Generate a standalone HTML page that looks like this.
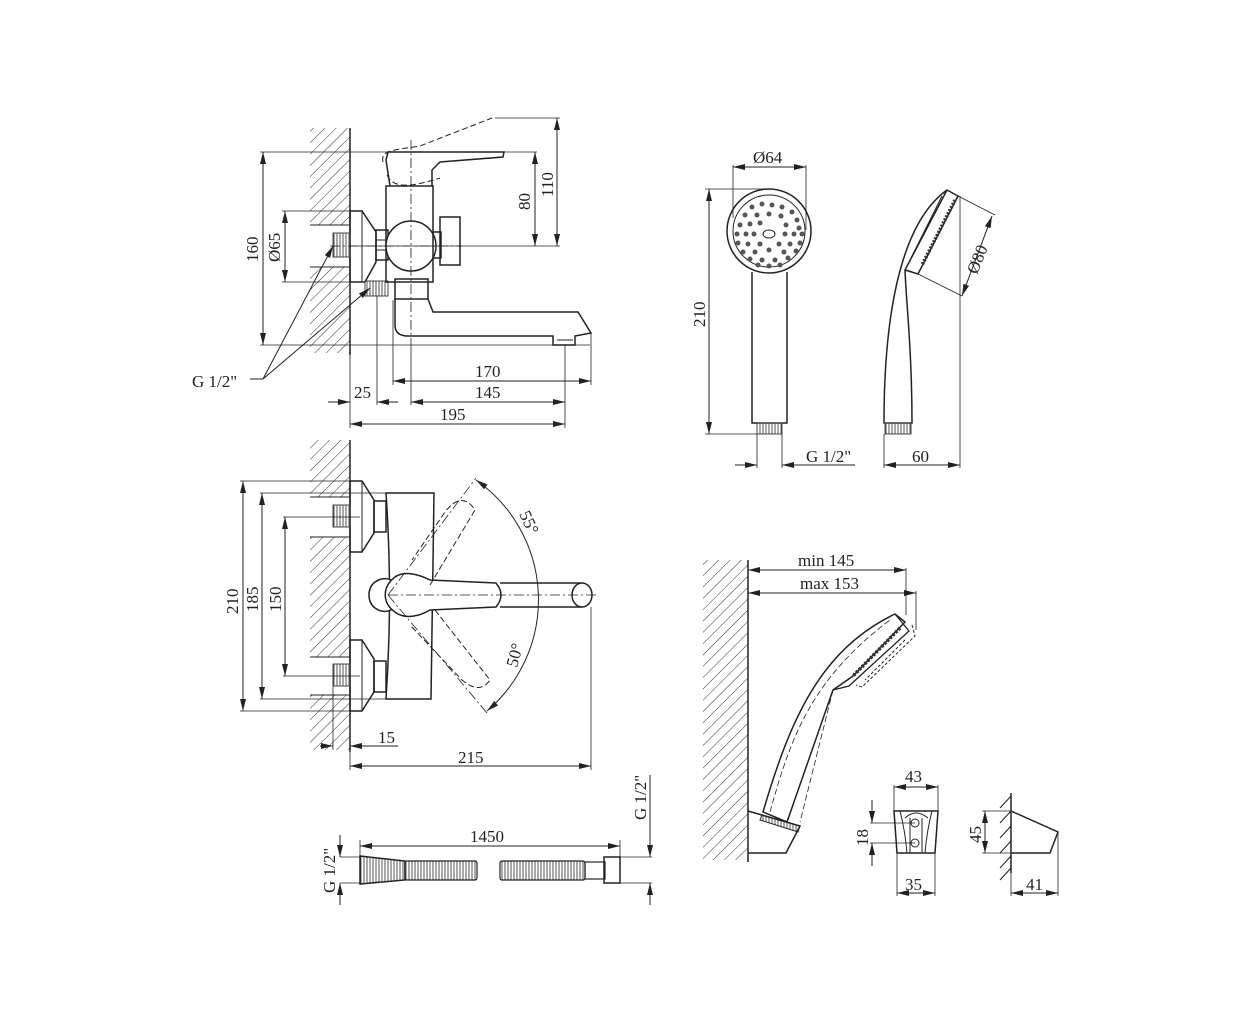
<!DOCTYPE html>
<html><head><meta charset="utf-8"><style>
html,body{margin:0;padding:0;background:#fff}
svg{display:block}
text{font-family:"Liberation Serif",serif;font-size:17px;fill:#222}
</style></head><body>
<svg width="1252" height="1024" viewBox="0 0 1252 1024" xmlns="http://www.w3.org/2000/svg">
<defs>
<pattern id="h" width="8" height="8" patternUnits="userSpaceOnUse" patternTransform="rotate(45)">
<line x1="0" y1="0" x2="0" y2="8" stroke="#333" stroke-width="1"/></pattern>
<pattern id="thr" width="3" height="4" patternUnits="userSpaceOnUse"><line x1="1" y1="0" x2="1" y2="4" stroke="#555" stroke-width="1"/></pattern>
<marker id="a" markerWidth="12" markerHeight="6" refX="12" refY="3" orient="auto-start-reverse" markerUnits="userSpaceOnUse"><path d="M0,0 L12,3 L0,6 z" fill="#222"/></marker>
</defs>
<g fill="none" stroke="#222" stroke-width="1">

<!-- ===== View 1 ===== -->
<rect x="310" y="128" width="40" height="97" fill="url(#h)" stroke="none"/>
<rect x="310" y="267" width="40" height="86" fill="url(#h)" stroke="none"/>
<line x1="350" y1="128" x2="350" y2="355" stroke-width="1.5"/>
<line x1="310" y1="225" x2="350" y2="225"/><line x1="310" y1="267" x2="350" y2="267"/>
<path d="M350,211 L362,211 L376,232 L376,262 L365,282 L350,282 Z" stroke-width="1.5"/>
<line x1="362" y1="211" x2="362" y2="282"/>
<rect x="333" y="233" width="17" height="24" fill="url(#thr)" stroke="#444"/>
<rect x="365" y="281" width="23" height="15" fill="url(#thr)" stroke="#444"/>
<rect x="376" y="230" width="12" height="30" stroke-width="1.5"/>
<line x1="376" y1="240" x2="388" y2="240"/><line x1="376" y1="250" x2="388" y2="250"/>
<rect x="386" y="186" width="47" height="96" stroke-width="1.5"/>
<circle cx="411" cy="246" r="25" fill="#fff" stroke-width="1.5"/>
<rect x="433" y="232" width="8" height="26" stroke-width="1.5"/>
<rect x="440" y="217" width="20" height="48" stroke-width="1.5"/>
<path d="M390,186 L386,160 L388,152 L432,152 L504,152 L503,157 L440,162 L432,170 L432,186" stroke-width="1.5"/>
<path d="M383,162 C380,150 395,150 420,146 L492,118 M387,175 C393,190 415,186 440,178" stroke-dasharray="6,3"/>
<rect x="395" y="279" width="33" height="20" stroke-width="1.5"/>
<path d="M395,299 L395,325 Q395,336 408,336 L553,336 L553,345 L575,345 L575,336 L591,333 L578,312 L433,312 L428,299" stroke-width="1.5"/>
<line x1="557" y1="340" x2="573" y2="340"/>
<line x1="411" y1="140" x2="411" y2="345" stroke-dasharray="10,3,2,3" stroke-width="0.8"/>
<line x1="330" y1="246" x2="462" y2="246" stroke-dasharray="10,3,2,3" stroke-width="0.8"/>
<!-- dims -->
<line x1="260" y1="152" x2="537" y2="152" stroke-width="0.8"/>
<line x1="350" y1="246" x2="560" y2="246" stroke-width="0.8"/>
<line x1="260" y1="345" x2="590" y2="345" stroke-width="0.8"/>
<line x1="282" y1="211" x2="350" y2="211" stroke-width="0.8"/>
<line x1="282" y1="282" x2="350" y2="282" stroke-width="0.8"/>
<line x1="495" y1="118" x2="560" y2="118" stroke-width="0.8"/>
<line x1="263" y1="152" x2="263" y2="345" marker-start="url(#a)" marker-end="url(#a)"/>
<line x1="285" y1="211" x2="285" y2="282" marker-start="url(#a)" marker-end="url(#a)"/>
<line x1="535" y1="152" x2="535" y2="246" marker-start="url(#a)" marker-end="url(#a)"/>
<line x1="557" y1="118" x2="557" y2="246" marker-start="url(#a)" marker-end="url(#a)"/>
<line x1="393" y1="300" x2="393" y2="385" stroke-width="0.8"/>
<line x1="591" y1="333" x2="591" y2="385" stroke-width="0.8"/>
<line x1="565" y1="345" x2="565" y2="428" stroke-width="0.8"/>
<line x1="411" y1="345" x2="411" y2="405" stroke-width="0.8"/>
<line x1="377" y1="296" x2="377" y2="405" stroke-width="0.8"/>
<line x1="350" y1="355" x2="350" y2="428" stroke-width="0.8"/>
<line x1="393" y1="381" x2="591" y2="381" marker-start="url(#a)" marker-end="url(#a)"/>
<line x1="411" y1="402" x2="565" y2="402" marker-start="url(#a)" marker-end="url(#a)"/>
<line x1="328" y1="402" x2="350" y2="402" marker-end="url(#a)"/>
<line x1="398" y1="402" x2="377" y2="402" marker-end="url(#a)"/>
<line x1="350" y1="424" x2="565" y2="424" marker-start="url(#a)" marker-end="url(#a)"/>
<line x1="250" y1="379" x2="263" y2="379"/>
<line x1="263" y1="379" x2="333" y2="246" marker-end="url(#a)"/>
<line x1="263" y1="379" x2="370" y2="288" marker-end="url(#a)"/>

<!-- ===== View 2 ===== -->
<rect x="310" y="440" width="40" height="57" fill="url(#h)" stroke="none"/>
<rect x="310" y="537" width="40" height="120" fill="url(#h)" stroke="none"/>
<rect x="310" y="695" width="40" height="55" fill="url(#h)" stroke="none"/>
<line x1="350" y1="440" x2="350" y2="752" stroke-width="1.5"/>
<line x1="310" y1="497" x2="350" y2="497"/><line x1="310" y1="537" x2="350" y2="537"/>
<line x1="310" y1="657" x2="350" y2="657"/><line x1="310" y1="695" x2="350" y2="695"/>
<path d="M350,481 L362,481 L374,500 L374,533 L362,552 L350,552 Z" stroke-width="1.5"/>
<path d="M350,640 L362,640 L374,659 L374,692 L362,711 L350,711 Z" stroke-width="1.5"/>
<line x1="362" y1="481" x2="362" y2="552"/><line x1="362" y1="640" x2="362" y2="711"/>
<rect x="333" y="505" width="17" height="22" fill="url(#thr)" stroke="#444"/>
<rect x="333" y="664" width="17" height="22" fill="url(#thr)" stroke="#444"/>
<rect x="374" y="501" width="12" height="31" stroke-width="1.5"/>
<rect x="374" y="661" width="12" height="31" stroke-width="1.5"/>
<path d="M386,493 L434,493 L431,699 L386,699 Q393,595 386,493 Z" stroke-width="1.5"/>
<path d="M402,586 C392,580 385,575 375,582 C367,588 367,602 375,608 C385,615 392,610 402,604" fill="#fff" stroke-width="1.5"/>
<path d="M395,577 C405,570 420,575 430,580 L496,583 Q506,595 496,607 L430,610 C420,616 405,620 395,612 C382,603 382,587 395,577 Z" fill="#fff" stroke-width="1.5"/>
<path d="M500,583 L582,583 M500,607 L582,607" stroke-width="1.5"/>
<ellipse cx="582" cy="595" rx="10" ry="12" fill="#fff" stroke-width="1.5"/>
<path d="M430,585 L475,510 Q462,490 445,512 L412,560 M435,610 L490,680 Q480,695 462,680 L410,625" stroke-dasharray="6,3"/>
<path d="M388,595 L476,478 M388,595 L487,713 M388,595 L596,595" stroke-dasharray="10,3,2,3" stroke-width="0.8"/>
<path d="M476,480 A146,146 0 0 1 487,711" marker-start="url(#a)" marker-end="url(#a)"/>
<line x1="240" y1="481" x2="350" y2="481" stroke-width="0.8"/>
<line x1="240" y1="711" x2="350" y2="711" stroke-width="0.8"/>
<line x1="260" y1="493" x2="386" y2="493" stroke-width="0.8"/>
<line x1="260" y1="699" x2="386" y2="699" stroke-width="0.8"/>
<line x1="283" y1="517" x2="360" y2="517" stroke-width="0.8"/>
<line x1="283" y1="676" x2="360" y2="676" stroke-width="0.8"/>
<line x1="243" y1="481" x2="243" y2="711" marker-start="url(#a)" marker-end="url(#a)"/>
<line x1="262" y1="493" x2="262" y2="699" marker-start="url(#a)" marker-end="url(#a)"/>
<line x1="285" y1="517" x2="285" y2="676" marker-start="url(#a)" marker-end="url(#a)"/>
<line x1="333" y1="686" x2="333" y2="750" stroke-width="0.8"/>
<line x1="320" y1="746" x2="333" y2="746" marker-end="url(#a)"/>
<line x1="398" y1="746" x2="350" y2="746" marker-end="url(#a)"/>
<line x1="350" y1="752" x2="350" y2="770" stroke-width="0.8"/>
<line x1="591" y1="607" x2="591" y2="770" stroke-width="0.8"/>
<line x1="350" y1="766" x2="591" y2="766" marker-start="url(#a)" marker-end="url(#a)"/>

<!-- ===== Hose ===== -->
<path d="M360,856 L405,861 L405,880 L360,884 Z" fill="url(#thr)" stroke-width="1.5"/>
<rect x="405" y="861" width="72" height="19" fill="url(#thr)" stroke-width="1.2" rx="2"/>
<rect x="500" y="861" width="85" height="19" fill="url(#thr)" stroke-width="1.2" rx="2"/>
<rect x="585" y="862" width="20" height="17" stroke-width="1.2"/>
<rect x="604" y="857" width="16" height="26" stroke-width="1.5"/>
<line x1="340" y1="857" x2="360" y2="857" stroke-width="0.8"/><line x1="340" y1="883" x2="360" y2="883" stroke-width="0.8"/>
<line x1="340" y1="835" x2="340" y2="857" marker-end="url(#a)"/><line x1="340" y1="905" x2="340" y2="883" marker-end="url(#a)"/>
<line x1="360" y1="840" x2="360" y2="856" stroke-width="0.8"/><line x1="620" y1="840" x2="620" y2="857" stroke-width="0.8"/>
<line x1="360" y1="846" x2="620" y2="846" marker-start="url(#a)" marker-end="url(#a)"/>
<line x1="620" y1="857" x2="652" y2="857" stroke-width="0.8"/><line x1="620" y1="883" x2="652" y2="883" stroke-width="0.8"/>
<line x1="650" y1="775" x2="650" y2="857" marker-end="url(#a)"/><line x1="650" y1="905" x2="650" y2="883" marker-end="url(#a)"/>

<!-- ===== Shower front ===== -->
<circle cx="769" cy="231" r="42" stroke-width="1.5"/>
<circle cx="769" cy="231" r="36"/>
<path d="M752,272 L752,423 L787,423 L787,272" stroke-width="1.5"/>
<rect x="757" y="423" width="25" height="11" fill="url(#thr)" stroke="#444"/>
<ellipse cx="769" cy="234" rx="6" ry="4"/>
<g fill="#555" stroke="none">
<circle cx="752" cy="207" r="2.5"/><circle cx="762" cy="204" r="2.5"/><circle cx="772" cy="205" r="2.5"/><circle cx="782" cy="207" r="2.5"/><circle cx="792" cy="212" r="2.5"/>
<circle cx="745" cy="215" r="2.5"/><circle cx="757" cy="215" r="2.5"/><circle cx="769" cy="214" r="2.5"/><circle cx="781" cy="216" r="2.5"/><circle cx="797" cy="220" r="2.5"/>
<circle cx="740" cy="225" r="2.5"/><circle cx="750" cy="224" r="2.5"/><circle cx="760" cy="223" r="2.5"/><circle cx="786" cy="225" r="2.5"/><circle cx="799" cy="228" r="2.5"/>
<circle cx="737" cy="234" r="2.5"/><circle cx="746" cy="234" r="2.5"/><circle cx="754" cy="234" r="2.5"/><circle cx="785" cy="234" r="2.5"/><circle cx="794" cy="234" r="2.5"/><circle cx="802" cy="234" r="2.5"/>
<circle cx="738" cy="243" r="2.5"/><circle cx="748" cy="244" r="2.5"/><circle cx="760" cy="244" r="2.5"/><circle cx="779" cy="244" r="2.5"/><circle cx="790" cy="244" r="2.5"/><circle cx="800" cy="243" r="2.5"/>
<circle cx="743" cy="252" r="2.5"/><circle cx="755" cy="252" r="2.5"/><circle cx="769" cy="250" r="2.5"/><circle cx="784" cy="252" r="2.5"/><circle cx="796" cy="251" r="2.5"/>
<circle cx="750" cy="259" r="2.5"/><circle cx="762" cy="260" r="2.5"/><circle cx="775" cy="260" r="2.5"/><circle cx="788" cy="258" r="2.5"/>
<circle cx="758" cy="265" r="2.5"/><circle cx="769" cy="266" r="2.5"/><circle cx="780" cy="265" r="2.5"/>
</g>
<line x1="733" y1="165" x2="733" y2="218" stroke-width="0.8"/><line x1="806" y1="165" x2="806" y2="230" stroke-width="0.8"/>
<line x1="733" y1="167" x2="806" y2="167" marker-start="url(#a)" marker-end="url(#a)"/>
<line x1="705" y1="189" x2="765" y2="189" stroke-width="0.8"/><line x1="705" y1="434" x2="757" y2="434" stroke-width="0.8"/>
<line x1="709" y1="189" x2="709" y2="434" marker-start="url(#a)" marker-end="url(#a)"/>
<line x1="757" y1="434" x2="757" y2="468" stroke-width="0.8"/><line x1="782" y1="434" x2="782" y2="468" stroke-width="0.8"/>
<line x1="735" y1="465" x2="757" y2="465" marker-end="url(#a)"/><line x1="855" y1="465" x2="782" y2="465" marker-end="url(#a)"/>

<!-- ===== Shower side ===== -->
<path d="M947,190 C905,220 884,300 884,423 L912,423 C912,350 906,300 905,270 Z" stroke-width="1.5"/>
<path d="M947,190 L958,196 L918,274 L905,270" stroke-width="1.5"/>
<path d="M955,200 L922,265" stroke="#333" stroke-width="3.5" stroke-dasharray="2,1.5"/>
<path d="M942,196 L911,258" stroke-width="1"/>
<rect x="885" y="423" width="26" height="11" fill="url(#thr)" stroke="#444"/>
<line x1="960" y1="196" x2="960" y2="468" stroke-width="0.8"/>
<line x1="958" y1="196" x2="995" y2="215" stroke-width="0.8"/>
<line x1="918" y1="274" x2="962" y2="296" stroke-width="0.8"/>
<line x1="992" y1="216" x2="962" y2="296" marker-start="url(#a)" marker-end="url(#a)"/>
<line x1="884" y1="434" x2="884" y2="468" stroke-width="0.8"/>
<line x1="884" y1="465" x2="960" y2="465" marker-start="url(#a)" marker-end="url(#a)"/>

<!-- ===== Shower on holder ===== -->
<rect x="703" y="560" width="45" height="300" fill="url(#h)" stroke="none"/>
<line x1="748" y1="560" x2="748" y2="862" stroke-width="1.5"/>
<line x1="748" y1="570" x2="906" y2="570" marker-start="url(#a)" marker-end="url(#a)"/>
<line x1="748" y1="593" x2="916" y2="593" marker-start="url(#a)" marker-end="url(#a)"/>
<line x1="906" y1="568" x2="906" y2="615" stroke-width="0.8"/>
<line x1="916" y1="591" x2="916" y2="630" stroke-width="0.8"/>
<path d="M763,812 C790,720 820,650 895,614 L905,622 L853,676 L833,690 L787,822 Z" stroke-width="1.5"/>
<path d="M895,614 L909,631 L849,686 L833,690" stroke-width="1.3"/>
<path d="M900,628 L853,676" stroke="#333" stroke-width="3.5" stroke-dasharray="2.5,1.5"/>
<path d="M912,625 L915,636 L862,687 L856,685 M905,640 L865,680" stroke-dasharray="3,2"/>
<path d="M770,812 C790,740 810,680 890,620 M833,690 L800,822" stroke-dasharray="6,3" stroke-width="0.8"/>
<path d="M748,811 L800,826 L786,853 L748,853" stroke-width="1.5"/>
<path d="M762,815 L800,826 L798,832 L760,820 Z" fill="url(#thr)"/>

<!-- bracket front -->
<path d="M894,811 L938,811 L935,853 L897,853 Z" stroke-width="1.5"/>
<path d="M900,811 Q905,830 907,853 M932,811 Q927,830 925,853 M905,818 Q916,808 928,818" stroke-width="1"/>
<line x1="910" y1="818" x2="910" y2="853"/><line x1="922" y1="818" x2="922" y2="853"/>
<circle cx="915" cy="823" r="4"/><circle cx="915" cy="843" r="4"/>
<line x1="870" y1="823" x2="915" y2="823" stroke-width="0.8"/><line x1="870" y1="843" x2="915" y2="843" stroke-width="0.8"/>
<line x1="872" y1="800" x2="872" y2="823" marker-end="url(#a)"/><line x1="872" y1="866" x2="872" y2="843" marker-end="url(#a)"/>
<line x1="894" y1="785" x2="894" y2="811" stroke-width="0.8"/><line x1="938" y1="785" x2="938" y2="811" stroke-width="0.8"/>
<line x1="894" y1="787" x2="938" y2="787" marker-start="url(#a)" marker-end="url(#a)"/>
<line x1="897" y1="853" x2="897" y2="896" stroke-width="0.8"/><line x1="935" y1="853" x2="935" y2="896" stroke-width="0.8"/>
<line x1="897" y1="893" x2="935" y2="893" marker-start="url(#a)" marker-end="url(#a)"/>

<!-- bracket side -->
<line x1="1011" y1="793" x2="1011" y2="873" stroke-width="1.5"/>
<path d="M1000,808 L1011,796 M1000,823 L1011,811 M1000,838 L1011,826 M1000,853 L1011,841 M1000,868 L1011,856 M1000,880 L1011,868" stroke-width="1"/>
<path d="M1011,811 L1058,832 L1050,853 L1011,853" stroke-width="1.5"/>
<line x1="982" y1="811" x2="1011" y2="811" stroke-width="0.8"/><line x1="982" y1="853" x2="1011" y2="853" stroke-width="0.8"/>
<line x1="985" y1="811" x2="985" y2="853" marker-start="url(#a)" marker-end="url(#a)"/>
<line x1="1058" y1="832" x2="1058" y2="896" stroke-width="0.8"/><line x1="1011" y1="873" x2="1011" y2="896" stroke-width="0.8"/>
<line x1="1011" y1="893" x2="1058" y2="893" marker-start="url(#a)" marker-end="url(#a)"/>
</g>

<!-- text -->
<text x="192" y="387">G 1/2"</text>
<text x="475" y="377">170</text>
<text x="475" y="398">145</text>
<text x="354" y="398">25</text>
<text x="440" y="420">195</text>
<text transform="translate(258,262) rotate(-90)">160</text>
<text transform="translate(280,262) rotate(-90)">Ø65</text>
<text transform="translate(530,210) rotate(-90)">80</text>
<text transform="translate(553,197) rotate(-90)">110</text>
<text transform="translate(238,614) rotate(-90)">210</text>
<text transform="translate(258,612) rotate(-90)">185</text>
<text transform="translate(281,612) rotate(-90)">150</text>
<text transform="translate(519,514) rotate(65)">55°</text>
<text transform="translate(517,668) rotate(-75)">50°</text>
<text x="378" y="743">15</text>
<text x="458" y="763">215</text>
<text x="470" y="842">1450</text>
<text transform="translate(335,893) rotate(-90)">G 1/2"</text>
<text transform="translate(646,820) rotate(-90)">G 1/2"</text>
<text x="753" y="163">Ø64</text>
<text transform="translate(705,327) rotate(-90)">210</text>
<text x="806" y="462">G 1/2"</text>
<text x="912" y="462">60</text>
<text transform="translate(977,275) rotate(-68)">Ø80</text>
<text x="798" y="566">min 145</text>
<text x="800" y="589">max 153</text>
<text x="905" y="782">43</text>
<text transform="translate(868,846) rotate(-90)">18</text>
<text x="905" y="890">35</text>
<text transform="translate(981,843) rotate(-90)">45</text>
<text x="1026" y="890">41</text>
</svg>
</body></html>
